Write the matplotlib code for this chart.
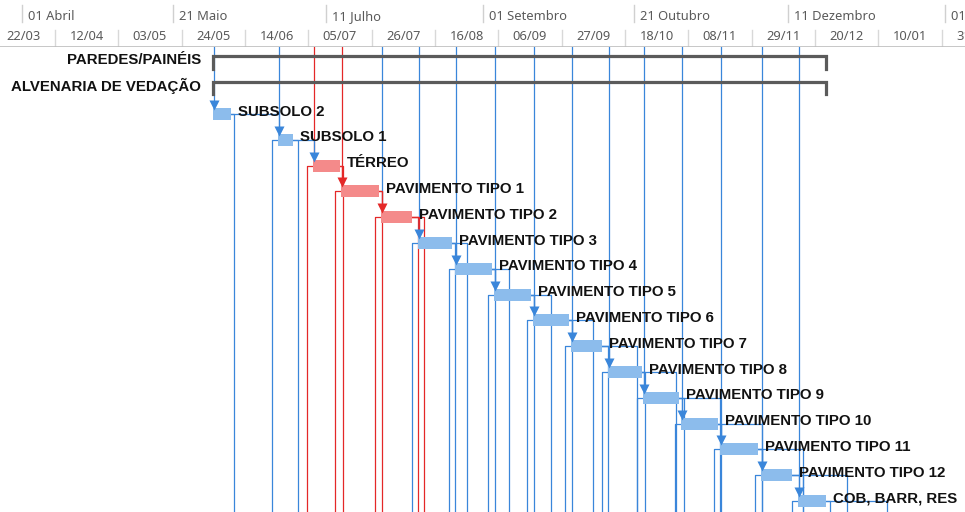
import numpy as np
import matplotlib.pyplot as plt
import matplotlib.dates as mdates
import pandas as pd

plt.rcParams['font.family'] = ['Noto Sans', 'DejaVu Sans']

# summary tasks
resumos = ['PAREDES/PAINÉIS', 'ALVENARIA DE VEDAÇÃO']
resumo_ini = ['2020-06-03 12:00', '2020-06-03 12:00']
resumo_fim = ['2020-12-23 12:00', '2020-12-23 12:00']

# tasks
tarefas = ['SUBSOLO 2', 'SUBSOLO 1', 'TÉRREO', 'PAVIMENTO TIPO 1', 'PAVIMENTO TIPO 2',
           'PAVIMENTO TIPO 3', 'PAVIMENTO TIPO 4', 'PAVIMENTO TIPO 5', 'PAVIMENTO TIPO 6',
           'PAVIMENTO TIPO 7', 'PAVIMENTO TIPO 8', 'PAVIMENTO TIPO 9', 'PAVIMENTO TIPO 10',
           'PAVIMENTO TIPO 11', 'PAVIMENTO TIPO 12', 'COB, BARR, RES']
inicio = ['2020-06-03 12:00', '2020-06-25', '2020-07-06 12:00', '2020-07-16', '2020-07-29',
          '2020-08-10 12:00', '2020-08-22 12:00', '2020-09-04 12:00', '2020-09-17 12:00',
          '2020-09-30', '2020-10-12 12:00', '2020-10-24', '2020-11-05 12:00',
          '2020-11-18 12:00', '2020-12-02', '2020-12-14 12:00']
termino = ['2020-06-09 12:00', '2020-06-30', '2020-07-15 12:00', '2020-07-28 12:00',
           '2020-08-08 12:00', '2020-08-21 12:00', '2020-09-04', '2020-09-17',
           '2020-09-29 12:00', '2020-10-10 12:00', '2020-10-23 12:00', '2020-11-05',
           '2020-11-18', '2020-12-01', '2020-12-12 12:00', '2020-12-23 12:00']
critica = [False, False, True, True, True, False, False, False, False,
           False, False, False, False, False, False, False]

# links leaving towards tasks below the visible area
tem_ss = [False] + [True] * 15
suc_fs = [['2020-06-10 12:00'],
          ['2020-07-01 12:00'],
          ['2020-07-16 12:00'],
          ['2020-07-29 12:00'],
          ['2020-08-10 12:00', '2020-08-12 12:00'],
          ['2020-08-22 12:00', '2020-08-26 12:00'],
          ['2020-09-04 12:00', '2020-09-09 12:00'],
          ['2020-09-17 12:00', '2020-09-23 12:00'],
          ['2020-09-30 12:00', '2020-10-07 12:00'],
          ['2020-10-12 12:00', '2020-10-22'],
          ['2020-10-24 12:00', '2020-11-04'],
          ['2020-11-06 12:00', '2020-11-18 12:00'],
          ['2020-11-19', '2020-12-02 12:00'],
          ['2020-12-02 12:00', '2020-12-16'],
          ['2020-12-16', '2020-12-30 12:00'],
          ['2020-12-25', '2021-01-13']]

# timescale
escala_maior = ['2020-04-01', '2020-05-21', '2020-07-11', '2020-09-01',
                '2020-10-21', '2020-12-11', '2021-02-01']
rotulos_maior = ['01 Abril', '21 Maio', '11 Julho', '01 Setembro',
                 '21 Outubro', '11 Dezembro', '01 Fevereiro']
escala_menor = pd.date_range('2020-03-22', '2021-02-21', freq='21D')

d = lambda s: mdates.date2num(pd.Timestamp(s))

W, H = 965, 512
HEAD = 47
PXD = 63.33 / 21          # pixels per day
DPX = 1 / PXD             # days per pixel
RPX = 1 / 25.8            # rows per pixel
x0 = d('2020-04-12') - 55 * DPX
x1 = x0 + W * DPX
ytop, ybot = -0.504, 17.52

AZ_BAR, VM_BAR = '#8cbcec', '#f48a8a'
AZ_LIN, VM_LIN = '#3a86da', '#e42828'
ROT = dict(family=['Liberation Sans', 'DejaVu Sans'], fontsize=10.8, fontweight='bold',
           color='#111111', va='center', zorder=6)

fig = plt.figure(figsize=(W / 100, H / 100), dpi=100)
ax = fig.add_axes([0, 0, 1, (H - HEAD) / H])
hx = fig.add_axes([0, (H - HEAD) / H, 1, HEAD / H])
for a in (ax, hx):
    a.set_xlim(x0, x1)
    a.axis('off')
ax.set_ylim(ybot, ytop)
hx.set_ylim(HEAD, 0)

# header
for s, lab in zip(escala_maior, rotulos_maior):
    hx.plot([d(s), d(s)], [5, 22], color='#d0d0d0', lw=1)
    hx.text(d(s) + 6 * DPX, 16.5, lab, fontsize=9.3, color='#5a5a5a', va='center', ha='left')
for a, b in zip(escala_menor[:-1], escala_menor[1:]):
    hx.plot([d(b), d(b)], [30, 46], color='#d8d8d8', lw=1)
    hx.text((d(a) + d(b)) / 2, 36, a.strftime('%d/%m'), fontsize=9.3, color='#5a5a5a',
            va='center', ha='center')
hx.axhline(46.5, color='#bdbdbd', lw=1.2)

# summary bars
for r, (nome, a, b) in enumerate(zip(resumos, resumo_ini, resumo_fim)):
    ya = r - 0.14
    ax.plot([d(a), d(a), d(b), d(b)], [ya + 0.47, ya, ya, ya + 0.47],
            color='#5b5b5b', lw=2.3, solid_joinstyle='miter', zorder=4)
    ax.text(d(a) - 12 * DPX, r, nome, ha='right', **ROT)

yend = ybot + 0.2
for i, nome in enumerate(tarefas):
    r = i + 2
    ini, fim = d(inicio[i]), d(termino[i])
    yc = r + 0.093
    btop = r - 0.14
    cl = VM_LIN if critica[i] else AZ_LIN
    xa = ini + 1 * DPX

    # incoming line from predecessors above the view
    ax.plot([xa, xa], [ytop, btop - 4 * RPX], color=VM_LIN if i in (2, 3) else AZ_LIN,
            lw=0.9, zorder=2)
    # link from previous task
    if i > 0:
        pf = d(termino[i - 1])
        xl = max(xa, pf + 2 * DPX)
        pc = VM_LIN if critica[i - 1] else AZ_LIN
        ax.plot([pf, xl, xl], [yc - 1, yc - 1, btop - 4 * RPX], color=pc, lw=0.9, zorder=2)
        xa = xl
    ax.plot(xa, btop - 3 * RPX, marker='v', ms=7, color=cl if i in (3, 4, 5) else AZ_LIN,
            mec='none', zorder=5)

    # links to tasks further down
    if tem_ss[i]:
        xs = ini - 6 * DPX
        ax.plot([ini, xs, xs], [yc, yc, yend], color=cl, lw=0.9, zorder=2)
    for s in suc_fs[i]:
        xd = max(d(s), fim + 3 * DPX)
        ax.plot([fim, xd, xd], [yc, yc, yend], color=cl, lw=0.9, zorder=2)

    ax.barh(yc, fim - ini, left=ini, height=0.465,
            color=VM_BAR if critica[i] else AZ_BAR, zorder=3)
    ax.text(fim + 7 * DPX, r, nome, ha='left', **ROT)

fig.savefig('out.png', dpi=100)
